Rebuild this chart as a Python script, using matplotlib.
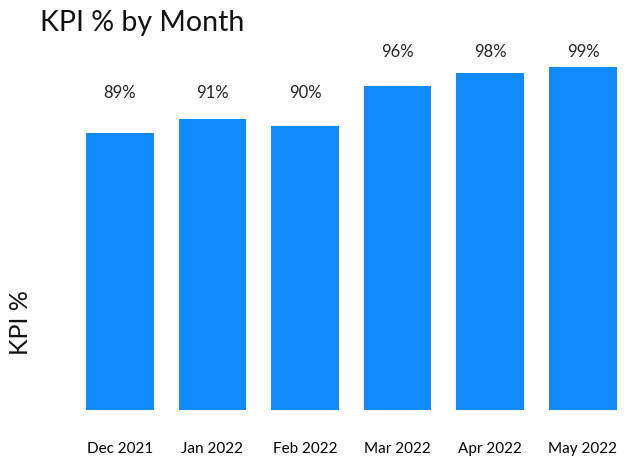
import matplotlib
matplotlib.use("Agg")
import matplotlib.pyplot as plt

months = ["Dec 2021", "Jan 2022", "Feb 2022", "Mar 2022", "Apr 2022", "May 2022"]
kpi = [89, 91, 90, 96, 98, 99]

BAR_COLOR = "#118AFF"
plt.rcParams["font.family"] = ["Lato", "DejaVu Sans"]

W, H = 625, 461
fig = plt.figure(figsize=(W / 100, H / 100), dpi=100)

# axes placed in pixel terms so the bars land where they are in the picture
left, right, top, bottom = 78, 620, 60, 410
ax = fig.add_axes([left / W, 1 - bottom / H, (right - left) / W, (bottom - top) / H])

x = list(range(len(months)))
ax.bar(x, kpi, width=0.73, color=BAR_COLOR, bottom=0)
ax.set_xlim(-0.45, 5.4)
ax.set_ylim(47, 100)

# value labels sit in two rows, like the original
for xi, v in zip(x, kpi):
    y = 95.0 if v < 93 else 101.2
    ax.text(xi, y, f"{v}%", ha="center", va="center", fontsize=12, color="#222222", clip_on=False)

ax.set_xticks(x)
ax.set_xticklabels(months, fontsize=11)
ax.tick_params(axis="x", length=0, pad=23)
ax.set_yticks([])
for s in ax.spines.values():
    s.set_visible(False)

fig.text(40 / W, 1 - 23 / H, "KPI % by Month", fontsize=20.5, va="center", ha="left", color="#111111")
fig.text(20 / W, 1 - 323 / H, "KPI %", fontsize=18, rotation=90, va="center", ha="center", color="#111111")

fig.savefig("out.png", dpi=100, facecolor="white")
